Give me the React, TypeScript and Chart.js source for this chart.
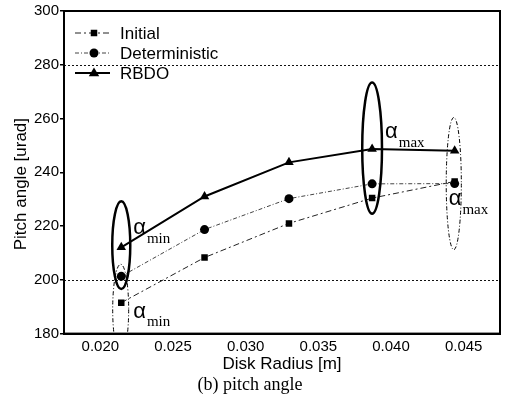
import React, { useEffect, useRef } from 'react';
import { Chart, registerables } from 'chart.js';

Chart.register(...registerables);

// ---- data ----
const diskRadius = [0.02144, 0.02717, 0.03298, 0.0387, 0.04438];
const initialPitch = [191.5, 208.3, 221.0, 230.4, 236.6];
const deterministicPitch = [201.3, 218.7, 230.2, 235.7, 235.8];
const rbdoPitch = [212.1, 231.0, 243.7, 248.7, 248.0];
const seriesNames = ['Initial', 'Deterministic', 'RBDO'];
const xTickValues = [0.02, 0.025, 0.03, 0.035, 0.04, 0.045];
const yTickValues = [180, 200, 220, 240, 260, 280, 300];
const limitLines = [200, 280];

// annotation ellipses, in data units
const ellipseCenters = [
  { cx: 0.02144, cy: 212.9, rx: 0.00062, ry: 16.3, solid: true },
  { cx: 0.0214, cy: 189.0, rx: 0.00055, ry: 16.8, solid: false },
  { cx: 0.0387, cy: 249.0, rx: 0.00068, ry: 24.4, solid: true },
  { cx: 0.04432, cy: 235.8, rx: 0.00052, ry: 24.6, solid: false },
];
const alphaLabels = [
  { x: 0.02226, y: 219.3, sub: 'min' },
  { x: 0.02226, y: 188.2, sub: 'min' },
  { x: 0.03959, y: 255.1, sub: 'max' },
  { x: 0.04397, y: 230.2, sub: 'max' },
];

const SANS = '"Liberation Sans", Arial, sans-serif';
const SERIF = '"Liberation Serif", "Times New Roman", serif';

function drawMarker(ctx: CanvasRenderingContext2D, style: string, x: number, y: number, r: number) {
  ctx.beginPath();
  if (style === 'rect') {
    const s = Math.SQRT1_2 * r;
    ctx.rect(x - s, y - s, 2 * s, 2 * s);
  } else if (style === 'triangle') {
    ctx.moveTo(x, y - r);
    ctx.lineTo(x + r * 0.95, y + r * 0.5 + 0.5);
    ctx.lineTo(x - r * 0.95, y + r * 0.5 + 0.5);
    ctx.closePath();
  } else {
    ctx.arc(x, y, r, 0, Math.PI * 2);
  }
  ctx.fill();
}

const decorPlugin = {
  id: 'decor',
  beforeDatasetsDraw(chart: any) {
    const { ctx, chartArea, scales } = chart;
    const ys = scales.y;
    ctx.save();
    ctx.strokeStyle = '#111';
    ctx.lineWidth = 1;
    ctx.setLineDash([2, 2]);
    limitLines.forEach((v) => {
      const py = Math.round(ys.getPixelForValue(v)) + 0.5;
      ctx.beginPath();
      ctx.moveTo(chartArea.left, py);
      ctx.lineTo(chartArea.right, py);
      ctx.stroke();
    });
    ctx.restore();
  },
  afterDatasetsDraw(chart: any) {
    const { ctx, chartArea, scales } = chart;
    const xs = scales.x;
    const ys = scales.y;
    ctx.save();
    ctx.beginPath();
    ctx.rect(chartArea.left, chartArea.top, chartArea.right - chartArea.left, chartArea.bottom - chartArea.top);
    ctx.clip();
    ellipseCenters.forEach((e) => {
      const cx = xs.getPixelForValue(e.cx);
      const cy = ys.getPixelForValue(e.cy);
      const rx = Math.abs(xs.getPixelForValue(e.cx + e.rx) - cx);
      const ry = Math.abs(ys.getPixelForValue(e.cy + e.ry) - cy);
      ctx.beginPath();
      ctx.ellipse(cx, cy, rx, ry, 0, 0, Math.PI * 2);
      ctx.strokeStyle = '#000';
      if (e.solid) {
        ctx.lineWidth = 2.5;
        ctx.setLineDash([]);
      } else {
        ctx.lineWidth = 1;
        ctx.setLineDash([4, 2, 1, 2]);
      }
      ctx.stroke();
    });
    ctx.setLineDash([]);
    ctx.fillStyle = '#000';
    ctx.textBaseline = 'middle';
    ctx.textAlign = 'left';
    alphaLabels.forEach((a) => {
      const px = xs.getPixelForValue(a.x);
      const py = ys.getPixelForValue(a.y);
      ctx.font = `22px ${SANS}`;
      ctx.fillText('\u03B1', px, py);
      const w = ctx.measureText('\u03B1').width;
      ctx.font = `15px ${SERIF}`;
      ctx.fillText(a.sub, px + w + 1, py + 11);
    });
    ctx.restore();

    // frame
    ctx.save();
    ctx.strokeStyle = '#000';
    ctx.lineWidth = 2;
    ctx.strokeRect(chartArea.left, chartArea.top, chartArea.right - chartArea.left, chartArea.bottom - chartArea.top);
    ctx.restore();

    // legend inside plot
    ctx.save();
    const rowY = [33, 53, 73];
    const x0 = chartArea.left + 11;
    chart.data.datasets.forEach((ds: any, i: number) => {
      const y = chartArea.top + rowY[i] - 11;
      ctx.strokeStyle = ds.borderColor;
      ctx.lineWidth = ds.borderWidth;
      ctx.setLineDash(ds.borderDash || []);
      ctx.beginPath();
      ctx.moveTo(x0, y);
      ctx.lineTo(x0 + 35, y);
      ctx.stroke();
      ctx.setLineDash([]);
      ctx.fillStyle = '#000';
      drawMarker(ctx, ds.pointStyle, x0 + 19, y, ds.pointRadius);
      ctx.font = `17px ${SANS}`;
      ctx.textBaseline = 'middle';
      ctx.textAlign = 'left';
      ctx.fillStyle = '#000';
      ctx.fillText(ds.label, x0 + 45, y + 1);
    });
    ctx.restore();
  },
};

export default function App() {
  const ref = useRef<HTMLCanvasElement | null>(null);

  useEffect(() => {
    document.body.style.margin = '0';
    const canvas = ref.current;
    if (!canvas) return;
    const toPts = (ys: number[]) => ys.map((y, i) => ({ x: diskRadius[i], y }));
    const chart = new Chart(canvas, {
      type: 'line',
      data: {
        datasets: [
          {
            label: seriesNames[0],
            data: toPts(initialPitch),
            borderColor: '#222',
            backgroundColor: '#000',
            borderWidth: 1,
            borderDash: [6, 3, 2, 3],
            pointStyle: 'rect',
            pointRadius: 4.6,
            pointBorderWidth: 0,
            tension: 0,
          },
          {
            label: seriesNames[1],
            data: toPts(deterministicPitch),
            borderColor: '#444',
            backgroundColor: '#000',
            borderWidth: 1,
            borderDash: [4, 2, 1, 2],
            pointStyle: 'circle',
            pointRadius: 4.5,
            pointBorderWidth: 0,
            tension: 0,
          },
          {
            label: seriesNames[2],
            data: toPts(rbdoPitch),
            borderColor: '#000',
            backgroundColor: '#000',
            borderWidth: 2,
            pointStyle: 'triangle',
            pointRadius: 5.5,
            pointBorderWidth: 0,
            tension: 0,
          },
        ],
      },
      options: {
        animation: false,
        responsive: false,
        maintainAspectRatio: false,
        layout: { padding: { left: 0, right: 8, top: 11, bottom: 0 } },
        plugins: {
          legend: { display: false },
          tooltip: { enabled: false },
          title: {
            display: true,
            position: 'bottom',
            text: '(b) pitch angle',
            color: '#000',
            font: { family: SERIF, size: 18, weight: 'normal' },
            padding: { top: 0, bottom: 13 },
          },
        },
        scales: {
          x: {
            type: 'linear',
            min: 0.0175,
            max: 0.0475,
            afterBuildTicks: (scale: any) => {
              scale.ticks = xTickValues.map((v) => ({ value: v }));
            },
            afterFit: (scale: any) => {
              scale.height = 40.8;
            },
            ticks: {
              color: '#000',
              font: { family: SANS, size: 15 },
              padding: 4,
              maxRotation: 0,
              autoSkip: false,
              callback: (v: any) => Number(v).toFixed(3),
            },
            grid: { display: true, drawOnChartArea: false, drawTicks: false, color: '#000' },
            border: { display: true, color: '#000', width: 2 },
            title: {
              display: true,
              text: 'Disk Radius [m]',
              color: '#000',
              font: { family: SANS, size: 17 },
              padding: { top: 0, bottom: 0 },
            },
          },
          y: {
            type: 'linear',
            min: 180,
            max: 300,
            afterBuildTicks: (scale: any) => {
              scale.ticks = yTickValues.map((v) => ({ value: v }));
            },
            afterFit: (scale: any) => {
              scale.width = 64;
            },
            ticks: {
              color: '#000',
              font: { family: SANS, size: 15 },
              padding: 1,
              autoSkip: false,
            },
            grid: { display: true, drawOnChartArea: false, drawTicks: true, tickLength: 4, color: '#000', lineWidth: 1.5 },
            border: { display: true, color: '#000', width: 2 },
            title: {
              display: true,
              text: 'Pitch angle [urad]     ',
              color: '#000',
              font: { family: SANS, size: 17 },
              padding: { top: 10.8, bottom: 0 },
            },
          },
        },
      },
      plugins: [decorPlugin],
    } as any);
    return () => chart.destroy();
  }, []);

  return <canvas ref={ref} width={508} height={409} style={{ display: 'block', width: 508, height: 409 }} />;
}
